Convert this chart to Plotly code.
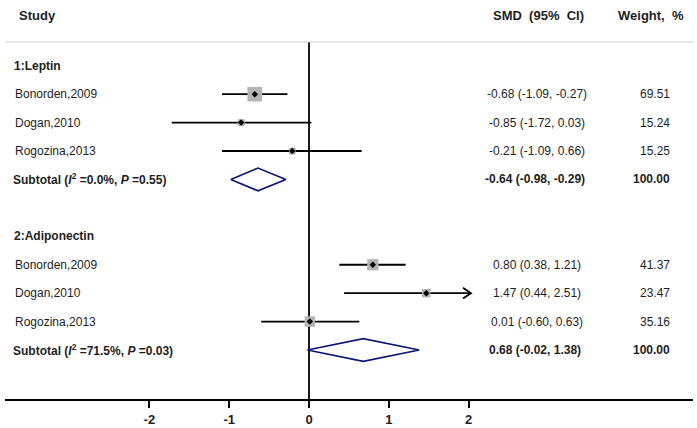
import math
import plotly.graph_objects as go

# ---------------- data ----------------
studies = ["Bonorden,2009", "Dogan,2010", "Rogozina,2013"]
groups = ["1:Leptin", "2:Adiponectin"]
lep_smd = [-0.68, -0.85, -0.21]
lep_lo = [-1.09, -1.72, -1.09]
lep_hi = [-0.27, 0.03, 0.66]
lep_w = [69.51, 15.24, 15.25]
adi_smd = [0.80, 1.47, 0.01]
adi_lo = [0.38, 0.44, -0.60]
adi_hi = [1.21, 2.51, 0.63]
adi_w = [41.37, 23.47, 35.16]
sub_smd = [-0.64, 0.68]
sub_lo = [-0.98, -0.02]
sub_hi = [-0.29, 1.38]
sub_w = [100.00, 100.00]
sub_i2 = ["0.0%", "71.5%"]
sub_p = ["0.55", "0.03"]
tick_vals = [-2, -1, 0, 1, 2]
tick_text = ["-2", "-1", "0", "1", "2"]

# ---------------- layout helpers ----------------
W, H = 697, 428
ML, MR, MT, MB = 5, 4, 0, 29
X0PX, PXU = 309.0, 79.8           # pixel of x=0, pixels per unit
XMIN = (ML - X0PX) / PXU
XMAX = (W - MR - X0PX) / PXU
CLIP = 2.03                       # arrow clip on the right
ROW0PX, ROWPX = 37.3, 28.43
YTOP = (MT - ROW0PX) / ROWPX
YBOT = (H - MB - ROW0PX) / ROWPX


def px2paper(px):
    return (px - ML) / (W - ML - MR)


FONT = "Liberation Sans, Arial, sans-serif"
TXT = "#1e1e1e"
NAVY = "#0b1677"

fig = go.Figure()
ann = []
shapes = []

group_data = [
    (lep_smd, lep_lo, lep_hi, lep_w),
    (adi_smd, adi_lo, adi_hi, adi_w),
]

row = 1
for g, (smd, lo, hi, w) in enumerate(group_data):
    ann.append(dict(x=px2paper(12), xref="paper", y=row, yref="y", text=f"<b>{groups[g]}</b>",
                    showarrow=False, xanchor="left", yanchor="middle",
                    font=dict(family=FONT, size=12, color=TXT)))
    row += 1
    for i in range(len(studies)):
        r = row + i
        x_end = min(hi[i], CLIP)
        # CI line
        fig.add_trace(go.Scatter(x=[lo[i], x_end], y=[r, r], mode="lines",
                                 line=dict(color="black", width=1.8),
                                 hoverinfo="skip", showlegend=False))
        if hi[i] > CLIP:
            fig.add_trace(go.Scatter(x=[CLIP - 0.1, CLIP, CLIP - 0.1], y=[r - 0.19, r, r + 0.19],
                                     mode="lines", line=dict(color="black", width=1.8),
                                     hoverinfo="skip", showlegend=False))
        # weight box
        fig.add_trace(go.Scatter(x=[smd[i]], y=[r], mode="markers",
                                 marker=dict(symbol="square", size=1.75 * math.sqrt(w[i]),
                                             color="#b4b4b4", line=dict(width=0)),
                                 hoverinfo="skip", showlegend=False))
        # point estimate
        fig.add_trace(go.Scatter(x=[smd[i]], y=[r], mode="markers",
                                 marker=dict(symbol="diamond", size=5, color="black",
                                             line=dict(width=0)),
                                 hoverinfo="skip", showlegend=False))
        ann.append(dict(x=px2paper(13), xref="paper", y=r, yref="y", text=studies[i],
                        showarrow=False, xanchor="left", yanchor="middle",
                        font=dict(family=FONT, size=12, color=TXT)))
        ann.append(dict(x=px2paper(537), xref="paper", y=r, yref="y",
                        text=f"{smd[i]:.2f} ({lo[i]:.2f}, {hi[i]:.2f})",
                        showarrow=False, xanchor="center", yanchor="middle",
                        font=dict(family=FONT, size=12, color=TXT)))
        ann.append(dict(x=px2paper(672), xref="paper", y=r, yref="y", text=f"{w[i]:.2f}",
                        showarrow=False, xanchor="right", yanchor="middle",
                        font=dict(family=FONT, size=12, color=TXT)))
    row += len(studies)
    # subtotal diamond
    r = row
    hh = 0.4
    fig.add_trace(go.Scatter(x=[sub_lo[g], sub_smd[g], sub_hi[g], sub_smd[g], sub_lo[g]],
                             y=[r, r - hh, r, r + hh, r], mode="lines", fill="toself",
                             fillcolor="white", line=dict(color=NAVY, width=1.7),
                             hoverinfo="skip", showlegend=False))
    ann.append(dict(x=px2paper(11), xref="paper", y=r, yref="y",
                    text=f"<b>Subtotal (<i>I</i><sup>2</sup> ={sub_i2[g]}, <i>P</i> ={sub_p[g]})</b>",
                    showarrow=False, xanchor="left", yanchor="middle",
                    font=dict(family=FONT, size=12, color=TXT)))
    ann.append(dict(x=px2paper(535), xref="paper", y=r, yref="y",
                    text=f"<b>{sub_smd[g]:.2f} ({sub_lo[g]:.2f}, {sub_hi[g]:.2f})</b>",
                    showarrow=False, xanchor="center", yanchor="middle",
                    font=dict(family=FONT, size=12, color=TXT)))
    ann.append(dict(x=px2paper(672), xref="paper", y=r, yref="y", text=f"<b>{sub_w[g]:.2f}</b>",
                    showarrow=False, xanchor="right", yanchor="middle",
                    font=dict(family=FONT, size=12, color=TXT)))
    row += 2

# headers
HDR_Y = (15 - ROW0PX) / ROWPX
LINE_Y = (42 - ROW0PX) / ROWPX
ann.append(dict(x=px2paper(17), xref="paper", y=HDR_Y, yref="y", text="<b>Study</b>",
                showarrow=False, xanchor="left", yanchor="middle",
                font=dict(family=FONT, size=13, color=TXT)))
ann.append(dict(x=px2paper(538), xref="paper", y=HDR_Y, yref="y", text="<b>SMD  (95%  CI)</b>",
                showarrow=False, xanchor="center", yanchor="middle",
                font=dict(family=FONT, size=13, color=TXT)))
ann.append(dict(x=px2paper(651), xref="paper", y=HDR_Y, yref="y", text="<b>Weight,  %</b>",
                showarrow=False, xanchor="center", yanchor="middle",
                font=dict(family=FONT, size=13, color=TXT)))

shapes.append(dict(type="line", xref="paper", yref="y", x0=0, x1=1, y0=LINE_Y, y1=LINE_Y,
                   line=dict(color="#cccccc", width=1.2)))
shapes.append(dict(type="line", xref="x", yref="y", x0=0, x1=0, y0=LINE_Y, y1=YBOT,
                   line=dict(color="black", width=1.8), layer="below"))

fig.update_layout(
    width=W, height=H,
    margin=dict(l=ML, r=MR, t=MT, b=MB),
    paper_bgcolor="white", plot_bgcolor="white",
    annotations=ann, shapes=shapes,
    showlegend=False,
    xaxis=dict(range=[XMIN, XMAX], tickvals=tick_vals, ticktext=tick_text,
               showgrid=False, zeroline=False, showline=True, linecolor="black", linewidth=2,
               ticks="outside", ticklen=7, tickwidth=2, tickcolor="black",
               tickfont=dict(family=FONT, size=13, color=TXT, weight="bold"),
               fixedrange=True),
    yaxis=dict(range=[YBOT, YTOP], visible=False, showgrid=False, zeroline=False,
               fixedrange=True),
)

fig.write_html("out.html", config={"displayModeBar": False},
               post_script="document.body.style.margin='0px';document.body.style.padding='0px';")
